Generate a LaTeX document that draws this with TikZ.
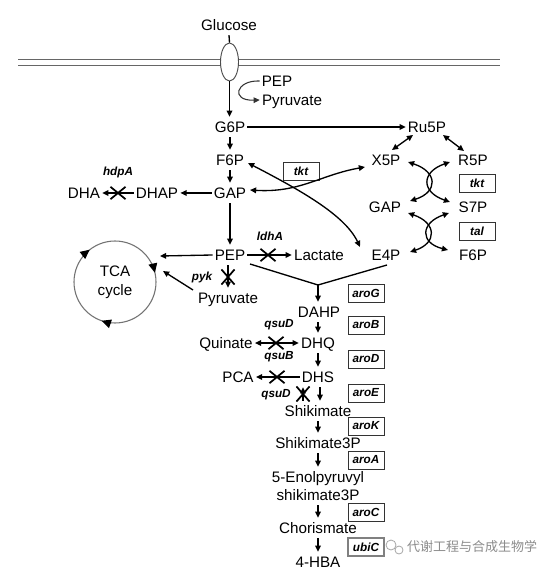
\documentclass[tikz,border=0pt]{standalone}
\usepackage{fontspec}
\setmainfont{Liberation Sans}
\newfontfamily\cjkfont{Noto Sans CJK SC}
\usetikzlibrary{arrows.meta,shapes.misc,shapes.geometric,calc}
\begin{document}
\begin{tikzpicture}[x=0.75pt,y=-0.75pt,
 txt/.style={font=\fontsize{11.4}{13.5}\selectfont, text height=8.1pt, text depth=0pt, inner xsep=1.5pt, inner ysep=3.4pt},
 lab/.style={font=\fontsize{8.8}{10}\selectfont\bfseries\itshape, inner sep=1pt},
 enz/.style={lab, draw=black!80, line width=0.6pt, minimum width=27pt, minimum height=13.5pt, inner sep=0pt},
 arr/.style={line width=1pt, -{Triangle[length=4.6pt,width=4.2pt]}},
 dbl/.style={line width=1pt, {Triangle[length=4.6pt,width=4.2pt]}-{Triangle[length=4.6pt,width=4.2pt]}},
 ln/.style={line width=1pt},
 xm/.style={cross out, draw, line width=1.3pt, minimum width=10pt, minimum height=8pt, inner sep=0pt},
 xv/.style={xm, minimum width=8.5pt, minimum height=10pt},
 mem/.style={draw=black!60, line width=0.7pt},
 tcatip/.style={draw=black!55, line width=0.8pt, -{Triangle[length=7pt,width=6.5pt,color=black]}}]

\fill[white] (0,0) rectangle (554,573);
\useasboundingbox (0,0) rectangle (554,573);

% membrane
\draw[mem] (18,59.5) -- (500,59.5);
\draw[mem] (18,65.5) -- (500,65.5);
\node[ellipse, draw=black!70, fill=white, line width=0.7pt, minimum width=13.5pt, minimum height=28.5pt, inner sep=0pt] (trans) at (229.5,62) {};
\node[txt] (glc) at (229,25) {Glucose};
\draw[ln] (glc.south) -- (trans.north);

\node[txt] (PEPu) at (277,81) {PEP};
\node[txt] (Pyru) at (292,100) {Pyruvate};
\draw[line width=0.8pt, draw=black!80, -{Triangle[length=4.6pt,width=4.2pt]}] (PEPu.west) .. controls (236,80) and (230,101) .. (Pyru.west);

% glycolysis
\node[txt] (G6P) at (230,127) {G6P};
\node[txt] (F6P) at (230,160) {F6P};
\node[txt] (GAP) at (230,193) {GAP};
\node[txt] (PEP) at (230,255) {PEP};
\node[txt] (Pyr2) at (228,298) {Pyruvate};
\node[txt] (DHAP) at (157,193) {DHAP};
\node[txt] (DHA) at (84,193) {DHA};
\node[lab] (hdpA) at (118,172) {hdpA};

\draw[arr] (trans.south) -- (trans.south |- G6P.north);
\draw[arr] (G6P.south) -- (F6P.north);
\draw[arr] (F6P.south) -- (GAP.north);
\draw[arr] (GAP.south) -- (PEP.north);
\draw[arr] (GAP.west) -- (DHAP.east);
\draw[arr] (DHAP.west) -- (DHA.east);
\node[xm] (x1) at (118,193) {};

% pentose phosphate
\node[txt] (Ru5P) at (427,127) {Ru5P};
\node[txt] (X5P) at (386,160) {X5P};
\node[txt] (R5P) at (473,160) {R5P};
\node[txt] (GAPr) at (385,207) {GAP};
\node[txt] (S7P) at (473,207) {S7P};
\node[txt] (E4P) at (386,255) {E4P};
\node[txt] (F6Pr) at (473,255) {F6P};
\node[enz] (tkt1) at (301,171) {tkt};
\node[enz] (tkt2) at (477,183) {tkt};
\node[enz] (tal) at (477,231) {tal};

\draw[arr] (G6P.east) -- (Ru5P.west);
\draw[dbl] ($(Ru5P)+(-14,8)$) -- ($(X5P)+(6,-10)$);
\draw[dbl] ($(Ru5P)+(16,8)$) -- ($(R5P)+(-9,-9)$);
\draw[dbl] ($(GAP)+(20,-3)$) .. controls (300,193) and (320,175) .. ($(X5P)+(-21,7)$);
\draw[dbl] ($(F6P)+(18,3)$) .. controls (300,190) and (345,215) .. ($(E4P)+(-26,-8)$);

\draw[dbl] ($(X5P)+(22,2)$) .. controls (438,172) and (438,192) .. ($(GAPr)+(25,-6)$);
\draw[dbl] ($(R5P)+(-23,2)$) .. controls (421,172) and (421,192) .. ($(S7P)+(-23,-5)$);
\draw[dbl] ($(GAPr)+(23,6)$) .. controls (437,223) and (437,243) .. ($(E4P)+(24,-3)$);
\draw[dbl] ($(S7P)+(-24,6)$) .. controls (420,223) and (420,243) .. ($(F6Pr)+(-25,-5)$);

% lactate
\node[txt] (Lac) at (319,255) {Lactate};
\node[lab] (ldhA) at (270,236) {ldhA};
\draw[arr] (PEP.east) -- (Lac.west);
\node[xm] (x2) at (268,255) {};

% pyk
\node[lab] (pyk) at (202,277) {pyk};
\draw[arr] (PEP.south -| Pyr2.north) -- (Pyr2.north);
\node[xv] (x3) at (228,277) {};

% TCA
\node[circle, draw=black!55, line width=0.8pt, minimum size=61.5pt, inner sep=0pt, align=center, font=\fontsize{11.4}{14.25}\selectfont] (TCA) at (115,282) {TCA\\cycle};
\foreach \a in {-128,-13,109} {
  \draw[tcatip] ($(TCA.center)+(\a-14:41)$) arc[start angle=\a-14, end angle=\a, radius=41];
}
\coordinate (tin1) at (160,256);
\coordinate (tin2) at (163,271);
\draw[arr] (PEP.west) -- (tin1);
\draw[arr] ($(Pyr2)+(-35,-8)$) -- (tin2);

% shikimate pathway
\coordinate (jn) at (318,285);
\node[txt] (DAHP) at (319,312) {DAHP};
\node[txt] (DHQ) at (318,343) {DHQ};
\node[txt] (DHS) at (318,377) {DHS};
\node[txt] (Shik) at (318,411) {Shikimate};
\node[txt] (Shik3P) at (318,443) {Shikimate3P};
\node[txt] (Enol1) at (318,477) {5-Enolpyruvyl};
\node[txt] (Enol2) at (318,495) {shikimate3P};
\node[txt] (Chor) at (318,528) {Chorismate};
\node[txt] (HBA) at (318,562) {4-HBA};

\draw[ln] ($(PEP)+(20,9)$) -- (jn) -- ($(E4P)+(1,10)$);
\draw[arr] (jn) -- (jn |- DAHP.north);
\draw[arr] (DAHP.south -| DHQ.north) -- (DHQ.north);
\draw[arr] (DHQ.south) -- (DHS.north);
\draw[arr] ($(DHS.south)+(2,0)$) -- ($(Shik.north)+(2,0)$);
\draw[arr] (Shik.south) -- (Shik3P.north);
\draw[arr] (Shik3P.south) -- (Enol1.north);
\draw[arr] (Enol2.south) -- (Chor.north);
\draw[arr] (Chor.south) -- (HBA.north);

\node[txt] (Quin) at (226,343) {Quinate};
\node[txt] (PCA) at (238,377) {PCA};
\node[lab] (qsuD1) at (279,325) {qsuD};
\node[lab] (qsuB) at (279,357) {qsuB};
\node[lab] (qsuD2) at (276,395) {qsuD};
\draw[dbl] (DHQ.west) -- (Quin.east);
\node[xm] (x4) at (276,343) {};
\draw[arr] (DHS.west) -- (PCA.east);
\node[xm] (x5) at (277,377) {};
\draw[arr] ($(Shik.north)+(-15,0)$) -- ($(DHS.south)+(-15,0)$);
\node[xv] (x6) at (303,394) {};

\node[enz] (aroG) at (366,293) {aroG};
\node[enz] (aroB) at (366,325) {aroB};
\node[enz] (aroD) at (366,359) {aroD};
\node[enz] (aroE) at (366,393) {aroE};
\node[enz] (aroK) at (366,426) {aroK};
\node[enz] (aroA) at (366,460) {aroA};
\node[enz] (aroC) at (366,512) {aroC};
\node[enz, draw=black!50, line width=1.5pt] (ubiC) at (366,547) {ubiC};

% watermark
\draw[black!35, line width=0.6pt] (391,545) circle[radius=5];
\draw[black!35, line width=0.6pt] (399,550) circle[radius=4];
\node[font=\cjkfont\fontsize{9.75}{11}\selectfont, text=black!45, inner sep=0pt] (wm) at (472,547) {代谢工程与合成生物学};
\end{tikzpicture}
\end{document}
